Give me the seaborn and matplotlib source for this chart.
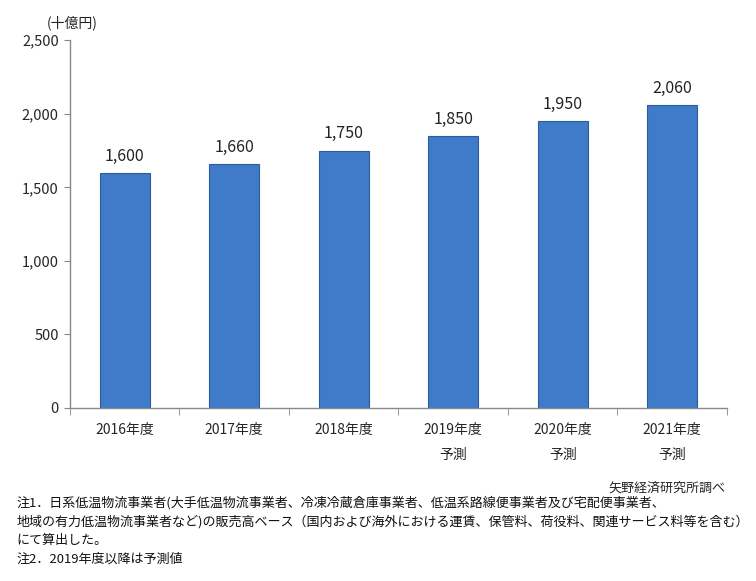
import pandas as pd
import numpy as np
import matplotlib.pyplot as plt
import seaborn as sns
from matplotlib.ticker import FuncFormatter, FixedLocator

# Data
years = ['2016年度', '2017年度', '2018年度', '2019年度\n予測', '2020年度\n予測', '2021年度\n予測']
sales = [1600, 1660, 1750, 1850, 1950, 2060]
y_ticks = [0, 500, 1000, 1500, 2000, 2500]

df = pd.DataFrame({'year': years, 'sales': sales})

sns.set_style('white')
plt.rcParams['font.family'] = ['Noto Sans CJK JP', 'DejaVu Sans']

fig = plt.figure(figsize=(7.56, 5.81), dpi=100)
ax = fig.add_axes([0.0926, 0.2978, 0.869, 0.633])

sns.barplot(data=df, x='year', y='sales', color='#3f7bc9', width=0.46,
            edgecolor='#2d5c9c', linewidth=0.8, saturation=1, ax=ax)

# value labels above bars
for i, v in enumerate(df['sales']):
    ax.text(i, v + 55, f'{v:,}', ha='center', va='bottom', fontsize=11.5, color='#222222')

ax.set_ylim(0, 2500)
ax.set_xlim(-0.5, len(years) - 0.5)
ax.set_yticks(y_ticks)
ax.yaxis.set_major_formatter(FuncFormatter(lambda v, p: f'{int(v):,}'))
ax.tick_params(axis='y', labelsize=10.5, length=4, color='#888888', pad=4, direction='out', left=True)
ax.tick_params(axis='x', labelsize=10, length=0, pad=11)
for lbl in ax.get_xticklabels():
    lbl.set_linespacing(1.95)
    lbl.set_verticalalignment('top')

# category separator ticks on the x axis
ax.xaxis.set_minor_locator(FixedLocator(np.arange(-0.5, len(years), 1.0)))
ax.tick_params(axis='x', which='minor', length=5, color='#888888', direction='out', bottom=True)

ax.set_xlabel('')
ax.set_ylabel('')
for side in ['top', 'right']:
    ax.spines[side].set_visible(False)
for side in ['left', 'bottom']:
    ax.spines[side].set_color('#888888')
    ax.spines[side].set_linewidth(1)

fig.text(0.096, 0.960, '(十億円)', ha='center', va='center', fontsize=10, color='#222222')

fig.text(0.960, 0.160, '矢野経済研究所調べ', ha='right', va='center', fontsize=9.4)
notes = ['注1．日系低温物流事業者(大手低温物流事業者、冷凍冷蔵倉庫事業者、低温系路線便事業者及び宅配便事業者、',
         '地域の有力低温物流事業者など)の販売高ベース（国内および海外における運賃、保管料、荷役料、関連サービス料等を含む）',
         'にて算出した。',
         '注2．2019年度以降は予測値']
for k, line in enumerate(notes):
    fig.text(0.022, 0.134 - k * 0.032, line, ha='left', va='center', fontsize=9.4, color='#111111')

fig.savefig('out.png', dpi=100, facecolor='white')
